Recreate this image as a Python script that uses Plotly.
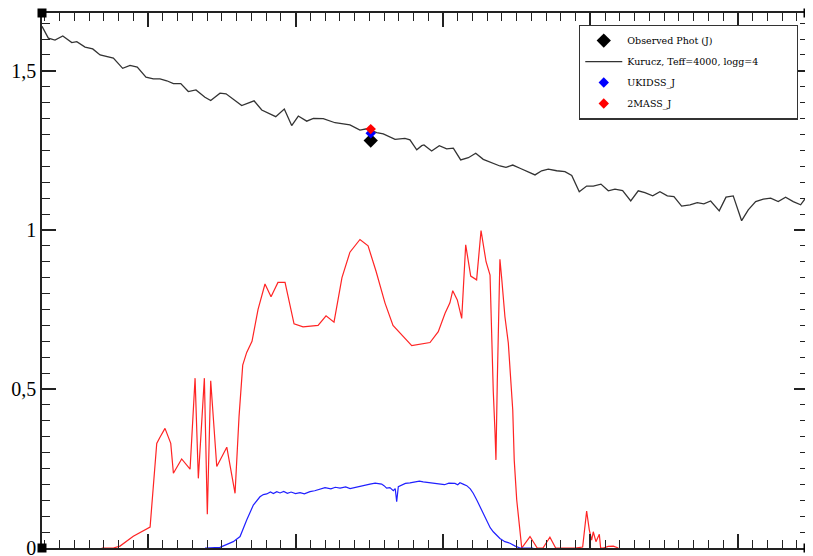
import plotly.graph_objects as go

# Kurucz model spectrum (wavelength in micron, normalised flux)
kurucz_wl = [1.0281, 1.0324, 1.0369, 1.0422, 1.0483, 1.0517, 1.0573, 1.0625, 1.0675, 1.0765,
             1.0828, 1.0878, 1.0927, 1.0986, 1.1036, 1.1081, 1.1127, 1.1172, 1.1222, 1.1273,
             1.1325, 1.1386, 1.1425, 1.1488, 1.1529, 1.1635, 1.1719, 1.1771, 1.1866, 1.1924,
             1.1974, 1.2019, 1.2076, 1.2121, 1.2188, 1.2268, 1.2369, 1.2437, 1.2483, 1.2551,
             1.2595, 1.2675, 1.2742, 1.2776, 1.2822, 1.2856, 1.2871, 1.2923, 1.2975, 1.3025,
             1.3070, 1.3120, 1.3172, 1.3222, 1.3273, 1.3330, 1.3386, 1.3427, 1.3473, 1.3522,
             1.3624, 1.3669, 1.3714, 1.3771, 1.3827, 1.3873, 1.3924, 1.3974, 1.4019, 1.4071,
             1.4121, 1.4166, 1.4218, 1.4273, 1.4324, 1.4369, 1.4422, 1.4471, 1.4521, 1.4566,
             1.4618, 1.4675, 1.4724, 1.4769, 1.4815, 1.4873, 1.4919, 1.4968, 1.5025, 1.5070,
             1.5120, 1.5172, 1.5222, 1.5273, 1.5323, 1.5375, 1.5425, 1.5477]
kurucz_flux = [1.640, 1.603, 1.597, 1.610, 1.589, 1.592, 1.575, 1.569, 1.550, 1.540,
               1.508, 1.517, 1.512, 1.480, 1.475, 1.475, 1.469, 1.460, 1.460, 1.435,
               1.440, 1.417, 1.407, 1.430, 1.428, 1.391, 1.406, 1.377, 1.356, 1.380,
               1.328, 1.358, 1.342, 1.351, 1.350, 1.337, 1.330, 1.314, 1.318, 1.306,
               1.302, 1.285, 1.288, 1.283, 1.252, 1.265, 1.267, 1.248, 1.265, 1.255,
               1.257, 1.220, 1.227, 1.241, 1.222, 1.212, 1.201, 1.197, 1.204, 1.194,
               1.173, 1.186, 1.191, 1.186, 1.183, 1.171, 1.120, 1.138, 1.138, 1.144,
               1.123, 1.128, 1.124, 1.091, 1.123, 1.117, 1.107, 1.120, 1.107, 1.105,
               1.075, 1.079, 1.086, 1.082, 1.091, 1.060, 1.103, 1.107, 1.029, 1.063,
               1.089, 1.097, 1.100, 1.089, 1.103, 1.089, 1.079, 1.112]

# 2MASS J relative spectral response
tmass_wl = [1.0686, 1.0765, 1.0810, 1.0900, 1.1014, 1.1032, 1.1059, 1.1081, 1.1115, 1.1154,
            1.1172, 1.1228, 1.1285, 1.1319, 1.1341, 1.1382, 1.1402, 1.1425, 1.1466, 1.1534,
            1.1590, 1.1617, 1.1642, 1.1669, 1.1705, 1.1746, 1.1793, 1.1834, 1.1881, 1.1929,
            1.1990, 1.2051, 1.2153, 1.2207, 1.2261, 1.2315, 1.2369, 1.2437, 1.2492, 1.2546,
            1.2607, 1.2661, 1.2708, 1.2788, 1.2912, 1.2968, 1.3014, 1.3047, 1.3066, 1.3097,
            1.3127, 1.3138, 1.3154, 1.3188, 1.3228, 1.3258, 1.3292, 1.3319, 1.3330, 1.3341,
            1.3353, 1.3359, 1.3368, 1.3382, 1.3386, 1.3398, 1.3420, 1.3443, 1.3473, 1.3483,
            1.3500, 1.3534, 1.3590, 1.3639, 1.3678, 1.3725, 1.3764, 1.3895, 1.3947, 1.3974,
            1.3992, 1.4008, 1.4019, 1.4037, 1.4060, 1.4069, 1.4087, 1.4121, 1.4155, 1.4189]
tmass_resp = [0.000, 0.000, 0.006, 0.037, 0.066, 0.182, 0.329, 0.348, 0.376, 0.329,
              0.235, 0.280, 0.248, 0.534, 0.219, 0.534, 0.106, 0.526, 0.256, 0.317,
              0.172, 0.413, 0.575, 0.615, 0.650, 0.750, 0.830, 0.790, 0.835, 0.835,
              0.705, 0.695, 0.700, 0.730, 0.710, 0.850, 0.930, 0.970, 0.950, 0.870,
              0.770, 0.700, 0.675, 0.636, 0.646, 0.680, 0.738, 0.771, 0.809, 0.780,
              0.722, 0.811, 0.953, 0.855, 0.843, 0.998, 0.900, 0.858, 0.623, 0.492,
              0.361, 0.277, 0.518, 0.843, 0.908, 0.848, 0.727, 0.644, 0.434, 0.277,
              0.151, 0.000, 0.036, 0.000, 0.000, 0.034, 0.000, 0.000, 0.003, 0.116,
              0.057, 0.025, 0.051, 0.020, 0.043, 0.000, 0.000, 0.005, 0.006, 0.000]

# UKIDSS J transmission
ukidss_wl = [1.1386, 1.1488, 1.1578, 1.1624, 1.1669, 1.1714, 1.1759, 1.1782, 1.1805, 1.1830,
             1.1850, 1.1873, 1.1895, 1.1920, 1.1945, 1.1970, 1.2000, 1.2031, 1.2060, 1.2098,
             1.2130, 1.2160, 1.2200, 1.2240, 1.2270, 1.2302, 1.2340, 1.2370, 1.2403, 1.2440,
             1.2470, 1.2505, 1.2540, 1.2584, 1.2600, 1.2618, 1.2640, 1.2663, 1.2676, 1.2686,
             1.2697, 1.2720, 1.2745, 1.2776, 1.2810, 1.2840, 1.2866, 1.2900, 1.2940, 1.2980,
             1.3010, 1.3040, 1.3081, 1.3100, 1.3115, 1.3140, 1.3161, 1.3185, 1.3205, 1.3230,
             1.3251, 1.3275, 1.3296, 1.3320, 1.3341, 1.3365, 1.3386, 1.3420, 1.3454, 1.3490,
             1.3522, 1.3612]
ukidss_trans = [0.000, 0.002, 0.020, 0.036, 0.088, 0.135, 0.161, 0.168, 0.170, 0.176,
                0.171, 0.177, 0.173, 0.178, 0.172, 0.176, 0.171, 0.174, 0.170, 0.177,
                0.180, 0.184, 0.190, 0.186, 0.191, 0.188, 0.192, 0.187, 0.191, 0.194,
                0.198, 0.201, 0.204, 0.201, 0.196, 0.188, 0.190, 0.180, 0.187, 0.146,
                0.193, 0.199, 0.203, 0.205, 0.207, 0.210, 0.208, 0.206, 0.203, 0.201,
                0.199, 0.204, 0.203, 0.199, 0.205, 0.200, 0.196, 0.186, 0.172, 0.150,
                0.130, 0.104, 0.083, 0.064, 0.051, 0.038, 0.030, 0.020, 0.015, 0.006,
                0.000, 0.000]

# Photometric points at J
obs_wl = [1.2510]
obs_flux = [1.281]
ukidss_pt_wl = [1.2510]
ukidss_pt_flux = [1.304]
tmass_pt_wl = [1.2510]
tmass_pt_flux = [1.317]

legend_names = ["Observed Phot (J)", "Kurucz, Teff=4000, logg=4", "UKIDSS_J", "2MASS_J"]

ytick_vals = [0, 0.5, 1, 1.5]
ytick_text = ["0", "0,5", "1", "1,5"]

# trailing non-breaking spaces widen the legend box to the reference's width
legend_pad = "\u00a0" * 11

fig = go.Figure()

fig.add_trace(go.Scatter(x=tmass_wl, y=tmass_resp, mode="lines",
                         line=dict(color="#ff2424", width=1.2), showlegend=False, hoverinfo="skip"))
fig.add_trace(go.Scatter(x=ukidss_wl, y=ukidss_trans, mode="lines",
                         line=dict(color="#2020ff", width=1.2), showlegend=False, hoverinfo="skip"))

fig.add_trace(go.Scatter(x=obs_wl, y=obs_flux, mode="markers", name=legend_names[0], legendgroup="a",
                         marker=dict(symbol="diamond", size=11, color="black")))
fig.add_trace(go.Scatter(x=kurucz_wl, y=kurucz_flux, mode="lines", name=legend_names[1] + legend_pad,
                         legendgroup="b", line=dict(color="#333333", width=1.3)))
fig.add_trace(go.Scatter(x=ukidss_pt_wl, y=ukidss_pt_flux, mode="markers", name=legend_names[2],
                         legendgroup="c", marker=dict(symbol="diamond", size=8, color="#0000ff")))
fig.add_trace(go.Scatter(x=tmass_pt_wl, y=tmass_pt_flux, mode="markers", name=legend_names[3],
                         legendgroup="d", marker=dict(symbol="diamond", size=8, color="#ff0000")))

axis_color = "#222222"
fig.update_xaxes(range=[1.0281, 1.5475], showticklabels=False, showgrid=False, zeroline=False,
                 automargin=False,
                 showline=True, linecolor=axis_color, linewidth=1.5, mirror="ticks",
                 ticks="inside", tick0=1.0, dtick=0.1, ticklen=14, tickwidth=1.5, tickcolor=axis_color,
                 minor=dict(ticks="inside", dtick=0.01, ticklen=8, tickwidth=1.2, tickcolor=axis_color,
                            showgrid=False))
fig.update_yaxes(range=[0, 1.682], tickvals=ytick_vals, ticktext=ytick_text, showgrid=False,
                 zeroline=False, automargin=False,
                 showline=True, linecolor=axis_color, linewidth=1.5, mirror="ticks",
                 ticks="inside", ticklen=14, tickwidth=1.5, tickcolor=axis_color,
                 ticklabeloverflow="allow", ticklabelstandoff=0,
                 tickfont=dict(family="Liberation Serif", size=20, color="black"),
                 minor=dict(ticks="inside", tickmode="linear", tick0=0, dtick=0.05, ticklen=8,
                            tickwidth=1.2, tickcolor=axis_color, showgrid=False))

# corner squares
for ax, ay in [(0, 0), (0, 1), (1, 0), (1, 1)]:
    fig.add_shape(type="rect", xref="x domain", yref="y domain", xsizemode="pixel", ysizemode="pixel",
                  xanchor=ax, yanchor=ay, x0=-4.5, x1=4.5, y0=-4.5, y1=4.5,
                  fillcolor="black", line=dict(width=0), layer="above")

fig.update_layout(
    width=805, height=548,
    margin=dict(l=34, r=5, t=5, b=8, autoexpand=False),
    paper_bgcolor="white", plot_bgcolor="white",
    showlegend=True,
    legend=dict(x=0.701, y=0.978, xanchor="left", yanchor="top",
                bgcolor="white", bordercolor="#333333", borderwidth=1.3,
                font=dict(family="DejaVu Serif", size=9.5, color="black"),
                traceorder="grouped", tracegroupgap=2, itemwidth=37),
)

fig.write_html("out.html")
